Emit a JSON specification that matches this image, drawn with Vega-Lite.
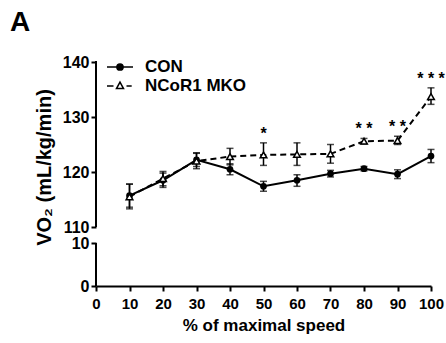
{
  "$schema": "https://vega.github.io/schema/vega-lite/v6.json",
  "width": 335,
  "height": 224,
  "autosize": {"type": "none"},
  "padding": {"left": 96, "top": 62, "right": 15, "bottom": 57},
  "title": {"text": "A", "anchor": "start", "frame": "group", "dx": -86, "dy": -7, "fontSize": 28, "font": "Liberation Sans", "fontWeight": "bold", "color": "black", "offset": 10},
  "config": {
    "view": {"stroke": null},
    "axis": {"grid": false, "domainColor": "black", "domainWidth": 2, "tickColor": "black", "tickWidth": 2, "tickSize": 5, "labelFont": "Liberation Sans", "labelFontWeight": "bold", "labelFontSize": 15, "labelColor": "black", "titleFont": "Liberation Sans", "titleFontWeight": "bold", "titleColor": "black", "labelFlush": false}
  },
  "data": {"values": [
    {"group": "CON", "speed": 10, "mean": 115.7, "lo": 113.6, "hi": 117.8, "sig": ""},
    {"group": "CON", "speed": 20, "mean": 118.5, "lo": 117.2, "hi": 119.8, "sig": ""},
    {"group": "CON", "speed": 30, "mean": 122.2, "lo": 121.0, "hi": 123.4, "sig": ""},
    {"group": "CON", "speed": 40, "mean": 120.5, "lo": 119.5, "hi": 121.5, "sig": ""},
    {"group": "CON", "speed": 50, "mean": 117.4, "lo": 116.5, "hi": 118.3, "sig": ""},
    {"group": "CON", "speed": 60, "mean": 118.5, "lo": 117.4, "hi": 119.5, "sig": ""},
    {"group": "CON", "speed": 70, "mean": 119.7, "lo": 119.1, "hi": 120.3, "sig": ""},
    {"group": "CON", "speed": 80, "mean": 120.6, "lo": 120.2, "hi": 121.0, "sig": ""},
    {"group": "CON", "speed": 90, "mean": 119.6, "lo": 118.8, "hi": 120.4, "sig": ""},
    {"group": "CON", "speed": 100, "mean": 122.9, "lo": 121.7, "hi": 124.1, "sig": ""},
    {"group": "NCoR1 MKO", "speed": 10, "mean": 115.5, "lo": 113.3, "hi": 117.8, "sig": ""},
    {"group": "NCoR1 MKO", "speed": 20, "mean": 118.8, "lo": 117.5, "hi": 120.1, "sig": ""},
    {"group": "NCoR1 MKO", "speed": 30, "mean": 122.0, "lo": 120.6, "hi": 123.5, "sig": ""},
    {"group": "NCoR1 MKO", "speed": 40, "mean": 122.8, "lo": 121.3, "hi": 124.3, "sig": ""},
    {"group": "NCoR1 MKO", "speed": 50, "mean": 123.1, "lo": 121.2, "hi": 125.3, "sig": "*"},
    {"group": "NCoR1 MKO", "speed": 60, "mean": 123.2, "lo": 121.2, "hi": 125.3, "sig": ""},
    {"group": "NCoR1 MKO", "speed": 70, "mean": 123.3, "lo": 121.6, "hi": 125.0, "sig": ""},
    {"group": "NCoR1 MKO", "speed": 80, "mean": 125.6, "lo": 125.1, "hi": 126.1, "sig": "* *"},
    {"group": "NCoR1 MKO", "speed": 90, "mean": 125.7, "lo": 125.0, "hi": 126.5, "sig": "* *"},
    {"group": "NCoR1 MKO", "speed": 100, "mean": 133.7, "lo": 132.3, "hi": 135.3, "sig": "* * *"}
  ]},
  "encoding": {
    "x": {"field": "speed", "type": "quantitative", "scale": {"domain": [0, 100], "nice": false, "zero": false},
          "axis": {"values": [0, 10, 20, 30, 40, 50, 60, 70, 80, 90, 100], "title": "% of maximal speed", "titleFontSize": 17, "labelPadding": 5, "titlePadding": 6}}
  },
  "layer": [
    {
      "mark": {"type": "errorbar", "ticks": {"size": 7, "thickness": 1.5, "color": "black"}, "rule": {"strokeWidth": 1.5, "color": "black"}},
      "encoding": {
        "y": {"field": "lo", "type": "quantitative", "title": "VO₂ (mL/kg/min)"},
        "y2": {"field": "hi"}
      }
    },
    {
      "transform": [{"filter": "datum.group === 'CON'"}],
      "mark": {"type": "line", "color": "black", "strokeWidth": 2},
      "encoding": {
        "y": {"field": "mean", "type": "quantitative", "title": "VO₂ (mL/kg/min)",
              "scale": {"domain": [0, 10, 110, 140], "range": [224, 181, 165, 0], "nice": false, "zero": false},
              "axis": {"values": [0, 10, 110, 120, 130, 140], "domain": false, "labelPadding": 2, "labelFontSize": 16, "titleFontSize": 20, "titlePadding": 8, "titleY": 105}}
      }
    },
    {
      "transform": [{"filter": "datum.group === 'NCoR1 MKO'"}],
      "mark": {"type": "line", "color": "black", "strokeWidth": 2, "strokeDash": [6, 4]},
      "encoding": {
        "y": {"field": "mean", "type": "quantitative", "title": "VO₂ (mL/kg/min)"}
      }
    },
    {
      "transform": [{"filter": "datum.group === 'CON'"}],
      "mark": {"type": "point", "shape": "circle", "filled": true, "color": "black", "size": 45, "opacity": 1},
      "encoding": {
        "y": {"field": "mean", "type": "quantitative", "title": "VO₂ (mL/kg/min)"}
      }
    },
    {
      "transform": [{"filter": "datum.group === 'NCoR1 MKO'"}],
      "mark": {"type": "point", "shape": "triangle-up", "filled": false, "fill": "white", "stroke": "black", "strokeWidth": 1.5, "size": 45, "opacity": 1},
      "encoding": {
        "y": {"field": "mean", "type": "quantitative", "title": "VO₂ (mL/kg/min)"}
      }
    },
    {
      "transform": [{"filter": "false"}],
      "mark": {"type": "point", "strokeWidth": 1.5, "opacity": 1, "filled": false},
      "encoding": {
        "y": {"field": "mean", "type": "quantitative", "title": "VO₂ (mL/kg/min)"},
        "fill": {"field": "group", "type": "nominal", "title": null, "scale": {"domain": ["CON", "NCoR1 MKO"], "range": ["black", "white"]}},
        "stroke": {"field": "group", "type": "nominal", "title": null, "scale": {"domain": ["CON", "NCoR1 MKO"], "range": ["black", "black"]}},
        "shape": {"field": "group", "type": "nominal", "title": null,
          "scale": {"domain": ["CON", "NCoR1 MKO"], "range": ["M-1,0L1,0M0.24,0A0.24,0.24 0 1 1 -0.24,0A0.24,0.24 0 1 1 0.24,0Z", "M-1,0L-0.5,0M0.5,0L0.9,0M0,-0.3L0.27,0.2L-0.27,0.2Z"]},
          "legend": {"orient": "none", "legendX": 10, "legendY": -4, "title": null, "padding": 0, "symbolSize": 676, "symbolStrokeWidth": 1.5, "symbolOpacity": 1,
            "labelFont": "Liberation Sans", "labelFontWeight": "bold", "labelFontSize": 17, "labelColor": "black", "labelOffset": 11, "rowPadding": 1, "clipHeight": 18}}
      }
    },
    {
      "mark": {"type": "text", "font": "Liberation Sans", "fontWeight": "bold", "fontSize": 16, "baseline": "alphabetic", "dy": -4, "color": "black"},
      "encoding": {
        "y": {"field": "hi", "type": "quantitative", "title": "VO₂ (mL/kg/min)"},
        "text": {"field": "sig"}
      }
    },
    {
      "mark": {"type": "rule", "color": "black", "strokeWidth": 2},
      "encoding": {"x": {"datum": 0, "type": "quantitative"}, "y": {"datum": 109.8, "type": "quantitative"}, "y2": {"datum": 140.2}}
    },
    {
      "mark": {"type": "rule", "color": "black", "strokeWidth": 2},
      "encoding": {"x": {"datum": 0, "type": "quantitative"}, "y": {"datum": 0, "type": "quantitative"}, "y2": {"datum": 10.2}}
    }
  ]
}
